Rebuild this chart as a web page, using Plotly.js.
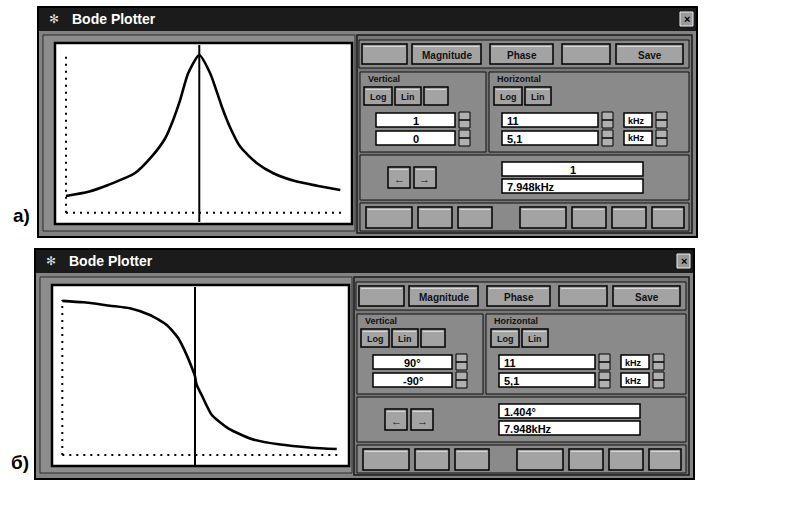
<!DOCTYPE html>
<html><head><meta charset="utf-8">
<script src="https://cdn.plot.ly/plotly-3.0.1.min.js"></script>
<style>html,body{margin:0;padding:0;background:#fff}#c{width:796px;height:508px}</style>
</head><body><div id="c"></div>
<script>
// ---- data ----
const freqMag = [5.1, 5.58, 6.0, 6.57, 6.93, 7.22, 7.39, 7.54, 7.71, 7.948, 8.18, 8.43, 8.6, 8.82, 9.18, 9.53, 10.03, 10.46, 10.96];
const magnitude = [0.106, 0.133, 0.176, 0.25, 0.355, 0.472, 0.588, 0.715, 0.884, 1.0, 0.884, 0.672, 0.545, 0.419, 0.313, 0.25, 0.197, 0.171, 0.144];
const freqPhase = [5.1, 5.55, 6.12, 6.55, 6.98, 7.34, 7.59, 7.77, 7.9, 7.948, 7.98, 8.09, 8.31, 8.66, 9.16, 9.74, 10.45, 10.99];
const phase = [89, 87.3, 83.4, 80.4, 72.6, 61, 45.5, 26, 8.7, 1.404, -8, -20.3, -43.6, -59, -71.4, -77.6, -81.5, -83];
const fStart = 5.1, fEnd = 11;          // kHz (horizontal I / F)
const cursorFreq = 7.948;               // kHz
const magRange = [0, 1];                // vertical I / F, window a)
const phaseRange = [-90, 90];           // vertical I / F, window б)
const windowA = {vTop: "1", vBot: "0", hTop: "11", hBot: "5,1", unit: "kHz", read1: "1", read2: "7.948kHz"};
const windowB = {vTop: "90°", vBot: "-90°", hTop: "11", hBot: "5,1", unit: "kHz", read1: "1.404°", read2: "7.948kHz"};

const W = 796, H = 508;
const px = x => x / W, py = y => 1 - y / H;
const shapes = [], ann = [];
const FONT = "Liberation Sans, Arial, sans-serif";
function rect(x0, y0, x1, y1, fill, lc, lw) {
  shapes.push({type: 'rect', xref: 'paper', yref: 'paper', x0: px(x0), x1: px(x1), y0: py(y1), y1: py(y0),
    fillcolor: fill, line: {color: lc || fill, width: lw === undefined ? 1 : lw}, layer: 'below'});
}
function text(x, y, s, size, color, xa, bold) {
  ann.push({xref: 'paper', yref: 'paper', x: px(x), y: py(y), text: bold === false ? s : '<b>' + s + '</b>', showarrow: false,
    xanchor: xa || 'center', yanchor: 'middle', font: {family: FONT, size: size, color: color || '#000'}});
}
function btn(x0, y0, x1, y1, label, size) {
  rect(x0, y0, x1, y1, '#a3a3a3', '#000', 1.5);
  rect(x0 + 2, y0 + 2, x1 - 2, y0 + 3, '#d8d8d8', '#d8d8d8', 0);
  if (label) text((x0 + x1) / 2, (y0 + y1) / 2 + 1, label, size || 10, '#111');
}
function spin(x0, y0) {
  rect(x0, y0, x0 + 11, y0 + 16, '#b0b0b0', '#000', 1);
  rect(x0, y0 + 8, x0 + 11, y0 + 8, '#000', '#000', 1);
}
function field(x0, y0, x1, y1, s, align) {
  rect(x0, y0, x1, y1, '#ffffff', '#000', 1.5);
  if (align === 'left') text(x0 + 3, (y0 + y1) / 2 + 1, s, 11, '#000', 'left');
  else text((x0 + x1) / 2, (y0 + y1) / 2 + 1, s, 11, '#000', 'center');
}
function buildWindow(dx, dy, v) {
  const X = x => x + dx, Y = y => y + dy;
  rect(X(38), Y(7), X(697), Y(237), '#828282', '#000', 2);
  rect(X(39), Y(8), X(696), Y(31), '#1b1b1b', '#1b1b1b', 0);
  text(X(70), Y(19), 'Bode Plotter', 14, '#fff', 'left');
  text(X(54), Y(19), '✻', 12, '#ddd', 'center', false);
  rect(X(680), Y(12), X(693), Y(26), '#9a9a9a', '#eee', 1);
  text(X(686.5), Y(19), '×', 11, '#000');
  // left frame
  rect(X(43), Y(35), X(355), Y(231), '#8d8d8d', '#2a2a2a', 1);
  rect(X(55), Y(43), X(352), Y(224), '#ffffff', '#000', 2.5);
  // panel
  rect(X(357), Y(35), X(692), Y(233), '#777777', '#1a1a1a', 1.5);
  rect(X(359), Y(40), X(689), Y(68), '#8a8a8a', '#111', 1);
  btn(X(362), Y(44), X(407), Y(64), '');
  btn(X(412), Y(44), X(481), Y(64), 'Magnitude');
  btn(X(490), Y(44), X(553), Y(64), 'Phase');
  btn(X(562), Y(44), X(610), Y(64), '');
  btn(X(616), Y(44), X(683), Y(64), 'Save');
  // vertical group
  rect(X(360), Y(72), X(486), Y(152), '#8a8a8a', '#111', 1);
  text(X(366), Y(79), 'Vertical', 9, '#111', 'left');
  btn(X(364), Y(87), X(392), Y(105), 'Log', 9);
  btn(X(395), Y(87), X(421), Y(105), 'Lin', 9);
  btn(X(424), Y(87), X(448), Y(105), '', 9);
  field(X(376), Y(113), X(455), Y(127), v.vTop);
  spin(X(459), Y(112));
  field(X(376), Y(131), X(455), Y(145), v.vBot);
  spin(X(459), Y(130));
  // horizontal group
  rect(X(489), Y(72), X(689), Y(152), '#8a8a8a', '#111', 1);
  text(X(495), Y(79), 'Horizontal', 9, '#111', 'left');
  btn(X(494), Y(87), X(522), Y(105), 'Log', 9);
  btn(X(525), Y(87), X(551), Y(105), 'Lin', 9);
  field(X(502), Y(113), X(598), Y(127), v.hTop, 'left');
  spin(X(602), Y(112));
  field(X(624), Y(113), X(652), Y(127), '', 'left');
  text(X(626), Y(120.5), v.unit, 9, '#000', 'left');
  spin(X(656), Y(112));
  field(X(502), Y(131), X(598), Y(145), v.hBot, 'left');
  spin(X(602), Y(130));
  field(X(624), Y(131), X(652), Y(145), '', 'left');
  text(X(626), Y(138.5), v.unit, 9, '#000', 'left');
  spin(X(656), Y(130));
  // readout group
  rect(X(360), Y(155), X(689), Y(200), '#8a8a8a', '#111', 1);
  btn(X(388), Y(167), X(410), Y(188), '←', 11);
  btn(X(414), Y(167), X(436), Y(188), '→', 11);
  field(X(502), Y(162), X(643), Y(176), v.read1, v.read1.length > 2 ? 'left' : 'center');
  field(X(502), Y(179), X(643), Y(193), v.read2, 'left');
  // bottom connector row
  rect(X(360), Y(203), X(689), Y(231), '#8a8a8a', '#111', 1);
  [[366, 412], [418, 452], [458, 492], [520, 566], [572, 606], [612, 646], [652, 684]].forEach(b => btn(X(b[0]), Y(207), X(b[1]), Y(228), ''));
}
buildWindow(0, 0, windowA);
buildWindow(-3, 242, windowB);
text(21, 215, 'а)', 19, '#000');
text(20, 462, 'б)', 19, '#000');

// dotted reference lines and cursors in data coordinates
function plotDecor(xa, ya, yr) {
  shapes.push({type: 'line', xref: xa, yref: ya, x0: fStart, x1: fStart, y0: yr[0], y1: yr[1], line: {color: '#000', width: 2, dash: '2px,5px'}, layer: 'below'});
  shapes.push({type: 'line', xref: xa, yref: ya, x0: fStart, x1: fEnd, y0: yr[0], y1: yr[0], line: {color: '#000', width: 2, dash: '2px,5px'}, layer: 'below'});
  shapes.push({type: 'line', xref: xa, yref: ya + ' domain', x0: cursorFreq, x1: cursorFreq, y0: 0, y1: 1, line: {color: '#000', width: 2}, layer: 'above'});
}
plotDecor('x', 'y', magRange);
plotDecor('x2', 'y2', phaseRange);

const ax = (dom, rng) => ({domain: dom, range: rng, showgrid: false, zeroline: false, showticklabels: false, showline: false, ticks: '', fixedrange: true});
const traces = [
  {x: freqMag, y: magnitude, xaxis: 'x', yaxis: 'y', mode: 'lines', line: {color: '#000', width: 2.6, shape: 'spline', smoothing: 0.6}, hoverinfo: 'skip'},
  {x: freqPhase, y: phase, xaxis: 'x2', yaxis: 'y2', mode: 'lines', line: {color: '#000', width: 2.6, shape: 'spline', smoothing: 0.6}, hoverinfo: 'skip'}
];
const layout = {
  width: W, height: H, margin: {l: 0, r: 0, t: 0, b: 0}, showlegend: false,
  paper_bgcolor: '#fff', plot_bgcolor: 'rgba(0,0,0,0)',
  xaxis: ax([px(57), px(350)], [4.908, 11.168]), yaxis: Object.assign(ax([py(222), py(45)], [-0.059, 1.063]), {anchor: 'x'}),
  xaxis2: Object.assign(ax([px(53), px(345)], [4.90, 11.167]), {anchor: 'y2'}), yaxis2: Object.assign(ax([py(465), py(287)], [-101.6, 105.1]), {anchor: 'x2'}),
  shapes: shapes, annotations: ann
};
layout.xaxis.anchor = 'y';
Plotly.newPlot('c', traces, layout, {staticPlot: true, displayModeBar: false});
</script></body></html>
